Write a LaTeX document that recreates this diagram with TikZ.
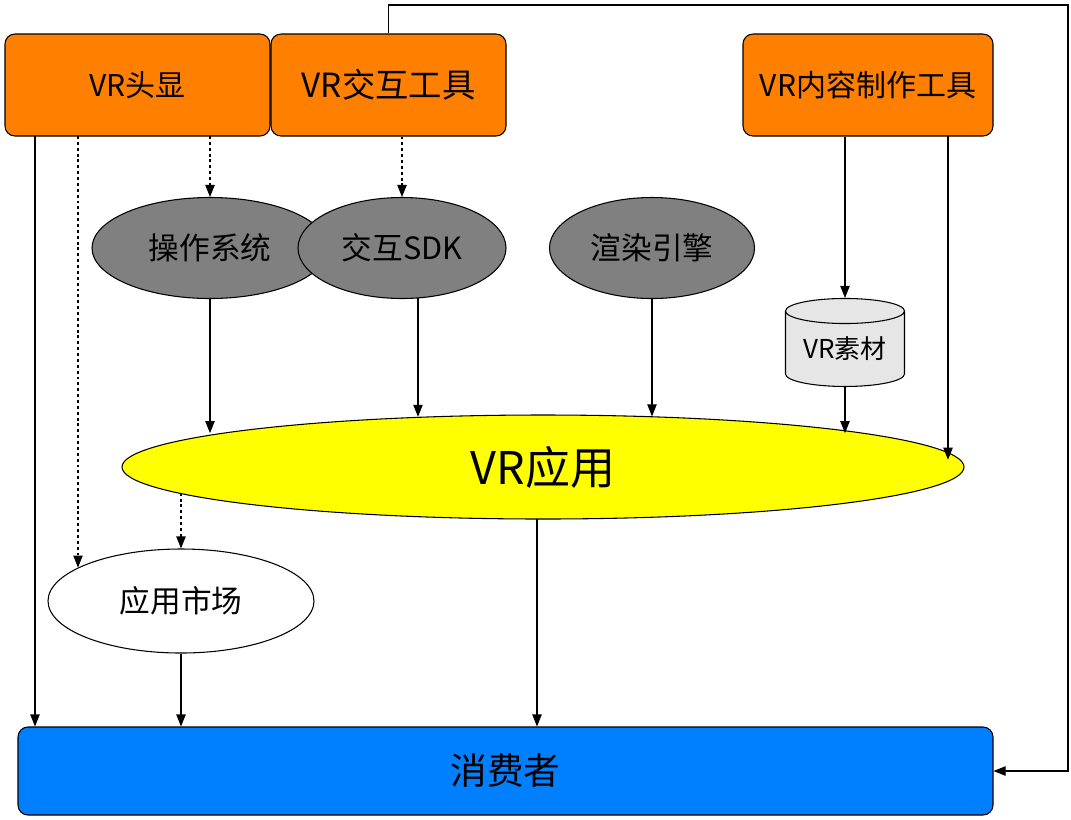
\documentclass[tikz,border=0pt]{standalone}
\usepackage{fontspec}
\setmainfont{Noto Sans CJK SC}
\usetikzlibrary{shapes.geometric,arrows.meta}
\definecolor{vrorange}{HTML}{FF8000}
\definecolor{vrgray}{HTML}{808080}
\definecolor{vrlight}{HTML}{E6E6E6}
\definecolor{vryellow}{HTML}{FFFF00}
\definecolor{vrblue}{HTML}{0080FF}
\tikzset{
  device/.style={draw, line width=0.8pt, fill=vrorange, rounded corners=7.5pt,
    minimum height=76.5pt, inner sep=0pt},
  module/.style={ellipse, draw, line width=0.8pt, fill=vrgray, inner sep=0pt,
    minimum height=75.75pt, font=\fontsize{23}{27}\selectfont},
  arr/.style={line width=0.8pt, -{Triangle[length=9pt, width=7pt]}},
  dots/.style={arr, dash pattern=on 2.2pt off 2.2pt}
}

\begin{document}
\begin{tikzpicture}[x=0.75pt, y=-0.75pt]
  \useasboundingbox (0,0) rectangle (1071,819);

  % hardware and tools
  \node[device, minimum width=198.75pt, font=\fontsize{22.5}{27}\selectfont] (hmd) at (137.5,85) {VR头显};
  \node[device, minimum width=176.25pt, font=\fontsize{25}{30}\selectfont] (tools) at (388.5,85) {VR交互工具};
  \node[device, minimum width=187.5pt, font=\fontsize{22.5}{27}\selectfont] (content) at (868,85) {VR内容制作工具};

  % software layer
  \node[module, minimum width=177pt] (os) at (210,248) {操作系统};
  \node[module, minimum width=156pt] (sdk) at (402,248) {交互SDK};
  \node[module, minimum width=153.75pt] (engine) at (652,248) {渲染引擎};
  \node[cylinder, shape border rotate=90, aspect=0.3, draw, line width=0.8pt, fill=vrlight,
    minimum width=89.25pt, minimum height=66pt, inner sep=0pt,
    font=\fontsize{19.5}{23}\selectfont] (assets) at (845,349) {VR素材};

  \node[ellipse, draw, line width=0.8pt, fill=vryellow, minimum width=631.5pt, minimum height=78pt,
    inner sep=0pt, font=\fontsize{33.75}{40}\selectfont] (app) at (543,467) {VR应用};
  \node[ellipse, draw, line width=0.8pt, fill=white, minimum width=199.5pt, minimum height=78pt,
    inner sep=0pt, font=\fontsize{23}{27}\selectfont] (market) at (181,601) {应用市场};

  \node[draw, line width=0.8pt, fill=vrblue, rounded corners=7.5pt, minimum width=731.25pt,
    minimum height=66pt, inner sep=0pt, font=\fontsize{27.5}{33}\selectfont] (user) at (505.5,771) {消费者};

  % connector ends
  \coordinate (hmdA) at (35,136);
  \coordinate (hmdB) at (78,136);
  \coordinate (hmdC) at (210,136);
  \coordinate (sdkA) at (418,298);
  \coordinate (contA) at (948,136);
  \coordinate (appA) at (181,490);
  \coordinate (appB) at (537,519);
  \coordinate (loop) at (1068,5);

  \draw[arr] (hmdA) -- (hmdA |- user.north);
  \draw[dots] (hmdB) -- (hmdB |- market.162.3);
  \draw[dots] (hmdC) -- (os.north);
  \draw[dots] (tools.south -| sdk.north) -- (sdk.north);

  \draw[arr] (os.south) -- (os.south |- app.174.5);
  \draw[arr] (sdkA) -- (sdkA |- app.158.2);
  \draw[arr] (engine.south) -- (engine.south |- app.24.5);
  \draw[arr] (content.south -| assets.north) -- (assets.north);
  \draw[arr] (assets.south) -- (assets.south |- app.6.8);
  \draw[arr] (contA) -- (contA |- app.1.95);

  \draw[dots] (appA |- app.184.2) -- (market.north);
  \draw[arr] (market.south) -- (market.south |- user.north);
  \draw[arr] (appB) -- (appB |- user.north);
  \draw[arr] (tools.north) |- (loop) |- (user.east);
\end{tikzpicture}
\end{document}
